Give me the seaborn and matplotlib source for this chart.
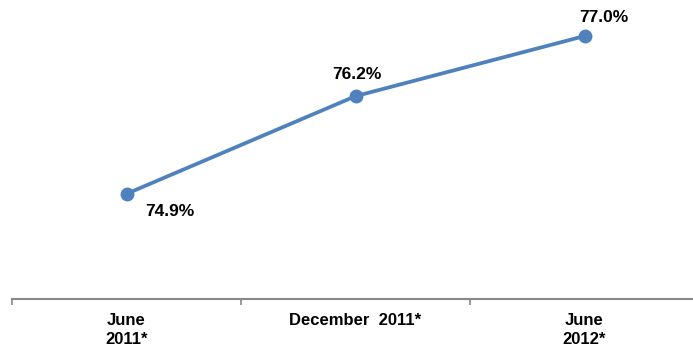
import matplotlib
matplotlib.use("Agg")
import matplotlib.pyplot as plt
import seaborn as sns
import pandas as pd

categories = ["June\n2011*", "December  2011*", "June\n2012*"]
values = [74.9, 76.2, 77.0]
labels = ["74.9%", "76.2%", "77.0%"]

sns.set_style("white")
plt.rcParams['font.family'] = ['Liberation Sans', 'DejaVu Sans']

df = pd.DataFrame({"x": [0, 1, 2], "y": values})

fig = plt.figure(figsize=(6.93, 3.49), dpi=100)
ax = fig.add_axes([12/693, 50/349, 687/693, 299/349])

color = "#4F81BD"
sns.lineplot(data=df, x="x", y="y", ax=ax, color=color, linewidth=2.7,
             marker="o", markersize=10, markeredgewidth=0, markerfacecolor=color)

ax.set_xlim(-0.5, 2.5)
ax.set_ylim(73.5, 77.48)

offsets = [(43, -18), (1, 22), (19, 19)]
for i, (v, lab) in enumerate(zip(values, labels)):
    ax.annotate(lab, (i, v), xytext=offsets[i], textcoords="offset pixels",
                ha="center", va="center", fontsize=12.5, fontweight="bold", color="black")

ax.set_xticks([-0.5, 0.5, 1.5, 2.5])
ax.set_xticklabels([])
ax.set_xticks([0, 1, 2], minor=True)
ax.set_xticklabels(categories, minor=True, fontsize=12, fontweight="bold",
                   linespacing=1.35, color="black")
ax.tick_params(axis="x", which="major", length=4, width=1.2, color="#888888", direction="out", bottom=True)
ax.tick_params(axis="x", which="minor", length=0, pad=10)
for lbl in ax.get_xticklabels(minor=True):
    lbl.set_verticalalignment("top")

ax.set_yticks([])
ax.set_xlabel("")
ax.set_ylabel("")
for s in ["top", "right", "left"]:
    ax.spines[s].set_visible(False)
ax.spines["bottom"].set_color("#888888")
ax.spines["bottom"].set_linewidth(1.5)

fig.savefig("out.png", dpi=100)
